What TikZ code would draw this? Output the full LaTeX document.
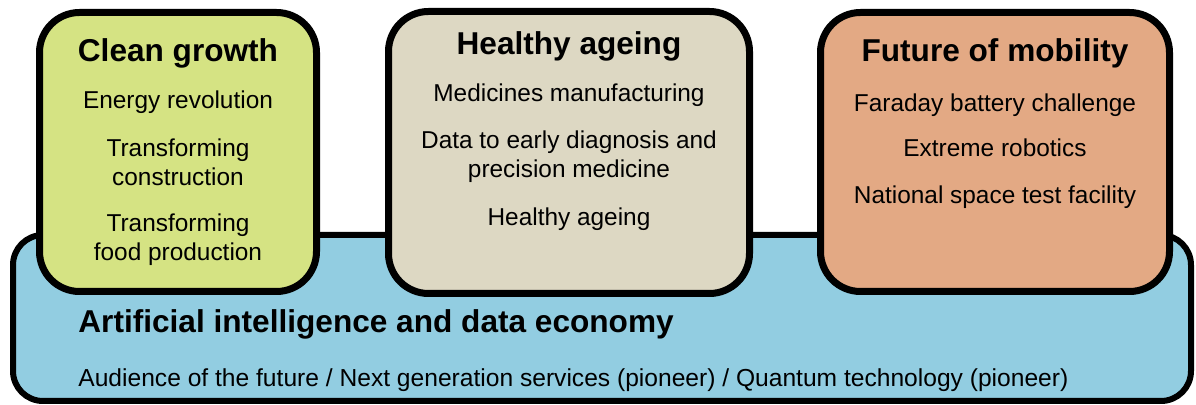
\documentclass[tikz,border=0pt]{standalone}
\usepackage{fontspec}
\setmainfont{Liberation Sans}
\definecolor{cgreen}{RGB}{213,227,131}
\definecolor{cbeige}{RGB}{221,216,195}
\definecolor{corange}{RGB}{227,169,132}
\definecolor{cblue}{RGB}{146,205,225}
\begin{document}
\begin{tikzpicture}[x=0.5pt,y=-0.5pt,
  topbox/.style={draw=black,line width=3.5pt,rounded corners=20pt},
  basebox/.style={draw=black,line width=3pt,rounded corners=15pt},
  ttl/.style={font=\fontsize{15.8}{18}\selectfont\bfseries,anchor=base,inner sep=0pt},
  item/.style={font=\fontsize{12.2}{14.5}\selectfont,anchor=base,align=center,inner sep=0pt}]
\useasboundingbox (0,0) rectangle (1196,405);
% base box
\draw[basebox,fill=cblue] (13,235) rectangle (1191,401);
\node[ttl,anchor=base west] (aititle) at (78,333) {Artificial intelligence and data economy};
\node[item,anchor=base west,font=\fontsize{12.3}{14.5}\selectfont] (aiitems) at (78,387) {Audience of the future / Next generation services (pioneer) / Quantum technology (pioneer)};
% clean growth
\draw[topbox,fill=cgreen] (39.5,12.5) rectangle (316.5,291.5);
\node[ttl] (cgtitle) at (178,62) {Clean growth};
\node[item] (cg1) at (178,109) {Energy revolution};
\node[item] (cg2) at (178,186) {Transforming\\construction};
\node[item] (cg3) at (178,261) {Transforming\\food production};
% healthy ageing
\draw[topbox,fill=cbeige] (388.5,11.5) rectangle (749.5,293.5);
\node[ttl] (hatitle) at (569,55) {Healthy ageing};
\node[item] (ha1) at (569,102) {Medicines manufacturing};
\node[item] (ha2) at (569,178) {Data to early diagnosis and\\precision medicine};
\node[item] (ha3) at (569,226) {Healthy ageing};
% future of mobility
\draw[topbox,fill=corange] (820.5,12.5) rectangle (1169.5,291.5);
\node[ttl] (fmtitle) at (995,62) {Future of mobility};
\node[item] (fm1) at (995,112) {Faraday battery challenge};
\node[item] (fm2) at (995,157) {Extreme robotics};
\node[item] (fm3) at (995,204) {National space test facility};
\end{tikzpicture}
\end{document}
